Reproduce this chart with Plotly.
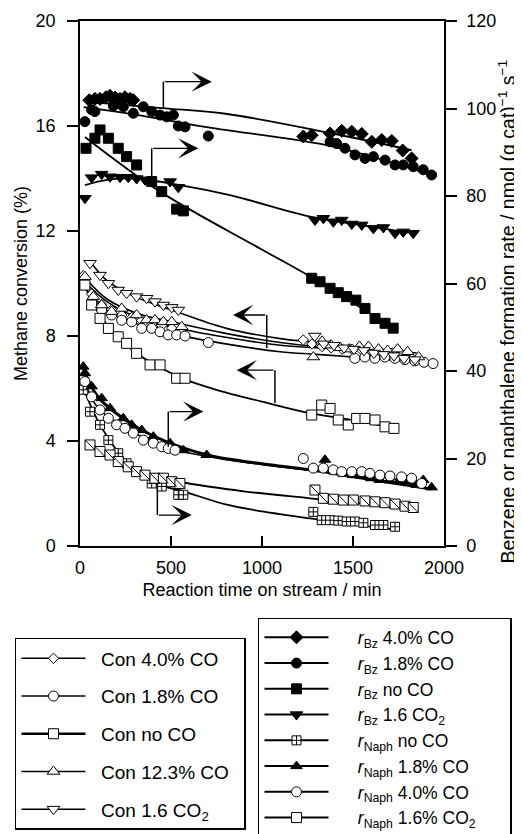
import plotly.graph_objects as go

FONT = "Liberation Sans, Arial, sans-serif"

# ---------------- Methane conversion (left axis, %) ----------------
t_con_co4 = [18, 64, 119, 174, 229, 284, 339, 394, 449, 504,
             1227, 1275, 1330, 1380, 1440, 1495, 1550, 1605, 1660, 1715, 1770]
con_co4 = [10.3, 9.6, 9.2, 9.0, 8.8, 8.7, 8.6, 8.45, 8.4, 8.3,
           7.85, 7.7, 7.6, 7.55, 7.5, 7.5, 7.45, 7.4, 7.35, 7.35, 7.3]

t_con_co18 = [119, 174, 229, 284, 339, 394, 440, 485, 531, 577, 705,
              1510, 1565, 1620, 1675, 1730, 1785, 1840, 1890, 1940]
con_co18 = [9.0, 8.8, 8.6, 8.54, 8.29, 8.29, 8.16, 8.04, 8.04, 8.0, 7.75,
            7.15, 7.2, 7.15, 7.2, 7.15, 7.1, 7.05, 7.0, 6.95]

t_con_noco = [27, 64, 110, 156, 210, 256, 311, 385, 440, 531, 577,
              1273, 1328, 1374, 1419, 1474, 1520, 1566, 1621, 1676, 1725]
con_noco = [9.94, 9.18, 8.67, 8.29, 7.97, 7.72, 7.34, 6.90, 6.90, 6.39, 6.39,
            4.99, 5.37, 5.24, 4.80, 4.61, 4.86, 4.86, 4.80, 4.54, 4.48]

t_con_co123 = [27, 73, 119, 174, 229, 311, 366, 412, 458, 504, 559,
               1282, 1330, 1380, 1430, 1480, 1535, 1585, 1640, 1690, 1745, 1800, 1860]
con_co123 = [10.26, 9.50, 9.18, 8.93, 9.05, 8.80, 8.61, 8.61, 8.54, 8.54, 8.35,
             7.2, 7.8, 7.65, 7.55, 7.5, 7.6, 7.6, 7.5, 7.45, 7.5, 7.4, 7.2]

t_con_co2 = [55, 110, 156, 210, 256, 311, 366, 412, 458, 504, 540,
             1290, 1340, 1395, 1450, 1505, 1560, 1615, 1670, 1725, 1780, 1840]
con_co2 = [10.77, 10.32, 10.01, 9.75, 9.63, 9.50, 9.44, 9.31, 9.18, 9.09, 8.99,
           8.0, 7.7, 7.65, 7.55, 7.5, 7.45, 7.35, 7.3, 7.25, 7.15, 7.1]

# ---------------- Benzene formation rate (right axis) ----------------
t_bz_co4 = [51, 82, 110, 143, 165, 192, 220, 247, 275, 293,
            1227, 1273, 1374, 1438, 1493, 1548, 1603, 1658, 1713, 1773, 1822]
bz_co4 = [101.9, 102.2, 102.2, 102.6, 102.9, 102.5, 102.2, 102.6, 102.2, 101.9,
          93.6, 93.9, 94.3, 94.9, 94.7, 94.2, 92.4, 92.8, 92.6, 90.4, 88.6]

t_bz_co18 = [27, 64, 82, 183, 238, 293, 348, 394, 440, 476, 513, 540, 577, 705,
             1374, 1410, 1456, 1511, 1566, 1612, 1676, 1731, 1776, 1831, 1886, 1932]
bz_co18 = [97.0, 99.7, 99.3, 100.6, 100.4, 98.9, 100.4, 99.3, 98.5, 98.1, 98.5, 96.0, 95.8, 93.7,
           92.4, 92.0, 90.9, 89.4, 88.6, 89.0, 88.2, 87.1, 87.1, 86.7, 86.0, 84.8]

t_bz_noco = [33, 82, 110, 156, 210, 256, 311, 394, 449, 531, 568,
             1273, 1319, 1374, 1419, 1465, 1516, 1566, 1621, 1676, 1721]
bz_noco = [90.9, 93.2, 95.1, 93.2, 90.9, 89.0, 87.1, 83.3, 81.0, 77.0, 76.6,
           61.2, 60.4, 58.9, 57.9, 57.0, 56.2, 54.3, 52.0, 50.9, 49.8]

t_bz_co2 = [27, 64, 119, 165, 220, 265, 311, 357, 495, 540,
            1291, 1337, 1392, 1438, 1493, 1548, 1612, 1667, 1731, 1776, 1831]
bz_co2 = [79.5, 84.2, 85.0, 84.4, 84.3, 84.3, 84.0, 83.7, 83.3, 82.0,
          74.5, 74.9, 74.1, 74.5, 73.6, 73.4, 72.6, 72.8, 71.5, 71.8, 71.5]

# ---------------- Naphthalene formation rate (right axis) ----------------
t_na_noco = [18, 55, 110, 156, 210, 256, 394, 449, 540, 568,
             1282, 1328, 1374, 1419, 1465, 1511, 1557, 1621, 1667, 1731]
na_noco = [35.7, 30.7, 27.7, 24.2, 21.2, 18.9, 14.3, 13.6, 11.7, 11.7,
           7.8, 5.9, 5.9, 5.8, 5.6, 5.6, 5.3, 4.8, 4.8, 4.4]

t_na_co18 = [18, 27, 64, 119, 165, 238, 284, 339, 403, 495, 568, 696,
             1346, 1400, 1450, 1500, 1550, 1600, 1648, 1700, 1750, 1800, 1850, 1886, 1932]
na_co18 = [41.0, 39.5, 36.5, 33.8, 31.5, 29.2, 27.7, 26.5, 25.0, 23.5, 21.9, 20.8,
           19.7, 17.0, 16.5, 16.2, 16.0, 15.5, 15.1, 15.0, 14.8, 14.5, 14.0, 15.1, 13.4]

t_na_co4 = [27, 64, 110, 156, 201, 247, 293, 348, 403, 449, 485, 522,
            1227, 1282, 1337, 1392, 1438, 1493, 1548, 1593, 1648, 1703, 1767, 1822, 1877]
na_co4 = [37.6, 34.1, 31.1, 29.2, 27.7, 26.9, 25.8, 24.2, 23.5, 22.7, 22.3, 21.9,
          20.0, 17.8, 17.8, 17.4, 17.0, 17.0, 17.0, 16.6, 16.2, 16.0, 15.8, 15.5, 14.3]

t_na_co2 = [55, 110, 165, 210, 265, 311, 357, 412, 458, 504, 549,
            1291, 1337, 1392, 1447, 1502, 1566, 1621, 1676, 1731, 1786, 1831]
na_co2 = [23.1, 21.6, 20.8, 19.3, 18.1, 17.0, 16.2, 15.5, 15.5, 14.7, 14.3,
          12.8, 10.9, 10.7, 10.5, 10.5, 10.3, 10.1, 9.9, 9.6, 9.1, 8.8]

# ---------------- fitted trend curves ----------------
fit_con_co2 = ([60, 150, 300, 500, 800, 1100, 1300, 1600, 1840],
               [10.8, 10.1, 9.5, 9.0, 8.3, 7.9, 7.75, 7.45, 7.15])
fit_con_co123 = ([30, 150, 300, 500, 800, 1100, 1300, 1600, 1850],
                 [10.2, 9.4, 8.9, 8.55, 8.1, 7.75, 7.6, 7.5, 7.35])
fit_con_co4 = ([20, 150, 300, 500, 800, 1100, 1300, 1550, 1770],
               [10.1, 9.3, 8.75, 8.35, 7.95, 7.65, 7.55, 7.45, 7.35])
fit_con_co18 = ([30, 150, 300, 500, 800, 1100, 1300, 1600, 1940],
                [9.8, 9.0, 8.5, 8.1, 7.7, 7.4, 7.3, 7.15, 6.95])
fit_con_noco = ([27, 100, 200, 300, 400, 577, 800, 1000, 1270, 1500, 1725],
                [9.9, 8.9, 8.0, 7.4, 6.95, 6.35, 5.85, 5.5, 5.05, 4.8, 4.5])

fit_bz_co4 = ([27, 450, 800, 1374, 1822], [101.6, 100.1, 98.8, 94.4, 90.5])
fit_bz_co18 = ([20, 300, 731, 1390, 1932], [100.3, 98.6, 95.5, 91.3, 84.8])
fit_bz_noco = ([27, 440, 989, 1264, 1721], [93.5, 81.0, 68.0, 61.6, 49.8])
fit_bz_co2 = ([27, 150, 293, 549, 824, 1264, 1550, 1831],
              [82.5, 83.7, 84.0, 82.5, 80.2, 75.3, 73.3, 71.5])

fit_na_co18 = ([18, 100, 250, 400, 700, 1000, 1264, 1600, 1932],
               [40.5, 34.0, 28.8, 25.2, 20.8, 18.8, 17.4, 15.2, 13.0])
fit_na_co4 = ([27, 100, 250, 400, 520, 800, 1227, 1600, 1877],
              [37.5, 31.5, 27.0, 23.8, 22.0, 19.8, 17.5, 16.0, 14.5])
fit_na_co2 = ([55, 200, 400, 586, 900, 1264, 1500, 1831],
              [23.5, 20.0, 16.2, 14.4, 12.5, 10.9, 9.9, 8.6])
fit_na_noco = ([18, 100, 200, 300, 450, 568, 800, 1000, 1264, 1500, 1731],
               [36.0, 28.5, 22.0, 17.5, 13.8, 12.5, 9.5, 7.9, 6.3, 4.9, 3.8])

# axis ticks and titles
x_ticks = [0, 500, 1000, 1500, 2000]
y1_ticks = [0, 4, 8, 12, 16, 20]
y2_ticks = [0, 20, 40, 60, 80, 100, 120]
RIGHT_TITLE = "Benzene or naphthalene formation rate / nmol (g cat)<sup>−1</sup> s<sup>−1</sup>"

fig = go.Figure()

# ---- trend lines (beneath the markers) ----
lines = [
    (fit_con_co2, "y", 1.6), (fit_con_co123, "y", 1.6), (fit_con_co4, "y", 1.6),
    (fit_con_co18, "y", 1.6), (fit_con_noco, "y", 1.8),
    (fit_bz_co4, "y2", 1.8), (fit_bz_co18, "y2", 1.8), (fit_bz_noco, "y2", 1.8),
    (fit_bz_co2, "y2", 1.8),
    (fit_na_co18, "y2", 3.0), (fit_na_co4, "y2", 1.6), (fit_na_co2, "y2", 1.8),
    (fit_na_noco, "y2", 1.8),
]
for (xs, ys), ax, w in lines:
    fig.add_trace(go.Scatter(x=xs, y=ys, yaxis=ax, mode="lines",
                             line=dict(color="black", width=w, shape="spline", smoothing=1.0),
                             showlegend=False, hoverinfo="skip"))


def gapped(xs, ys):
    gx, gy = [], []
    for a, b in zip(xs, ys):
        gx += [a, None]
        gy += [b, None]
    return gx, gy


NB = "\u00a0"
# (name, t, values, yaxis, symbol, size, fill, legend, legend line width)
series = [
    ("Con 4.0% CO", t_con_co4, con_co4, "y", "diamond", 8, "white", "legend", 1.5),
    ("Con 1.8% CO", t_con_co18, con_co18, "y", "circle", 10, "white", "legend", 1.5),
    ("Con no CO", t_con_noco, con_noco, "y", "square", 10, "white", "legend", 2.5),
    ("Con 12.3% CO", t_con_co123, con_co123, "y", "triangle-up", 11, "white", "legend", 1.5),
    ("Con 1.6 CO<sub>2</sub>", t_con_co2, con_co2, "y", "triangle-down", 11, "white", "legend", 1.5),
    ("<i>r</i><sub>Bz</sub> 4.0% CO", t_bz_co4, bz_co4, "y2", "diamond", 10, "black", "legend2", 2),
    ("<i>r</i><sub>Bz</sub> 1.8% CO", t_bz_co18, bz_co18, "y2", "circle", 10, "black", "legend2", 2),
    ("<i>r</i><sub>Bz</sub> no CO", t_bz_noco, bz_noco, "y2", "square", 10, "black", "legend2", 2),
    ("<i>r</i><sub>Bz</sub> 1.6 CO<sub>2</sub>", t_bz_co2, bz_co2, "y2", "triangle-down", 11, "black", "legend2", 2),
    ("<i>r</i><sub>Naph</sub> no CO", t_na_noco, na_noco, "y2", "square-cross", 9, "white", "legend2", 2),
    ("<i>r</i><sub>Naph</sub> 1.8% CO", t_na_co18, na_co18, "y2", "triangle-up", 10, "black", "legend2", 2),
    ("<i>r</i><sub>Naph</sub> 4.0% CO", t_na_co4, na_co4, "y2", "circle", 10, "white", "legend2", 2),
    ("<i>r</i><sub>Naph</sub> 1.6% CO<sub>2</sub>", t_na_co2, na_co2, "y2", "square", 10, "white", "legend2", 2),
]

for i, (name, ts, vs, ax, sym, size, fill, leg, lw) in enumerate(series):
    gx, gy = gapped(ts, vs)
    if leg == "legend":
        label = NB * 2 + name + NB * 2
    else:
        label = NB * 5 + name + NB * 6
    fig.add_trace(go.Scatter(
        x=gx, y=gy, yaxis=ax, name=label, mode="lines+markers", connectgaps=False,
        line=dict(color="black", width=lw),
        marker=dict(symbol=sym, size=size, color=fill, line=dict(color="black", width=1)),
        legend=leg, legendgroup=("g%d" % i) if leg == "legend" else None,
        hoverinfo="x+y"))
    if name.startswith("<i>r</i><sub>Naph</sub> 1.6"):
        fig.add_trace(go.Scatter(
            x=ts, y=vs, yaxis=ax, mode="markers", showlegend=False, hoverinfo="skip",
            marker=dict(symbol="line-nw", size=size, color="black",
                        line=dict(color="black", width=1))))

# ---- L-shaped arrows (left-axis units) : (x_vertical, y_start, y_corner, x_tip)
ARROWS = [
    (458, 16.69, 17.69, 724),
    (394, 14.01, 15.15, 650),
    (1026, 7.54, 8.80, 841),
    (1071, 5.45, 6.70, 861),
    (485, 3.78, 5.12, 678),
    (425, 2.40, 1.18, 614),
]
shapes = []
annotations = []
for xv, y0, y1, xt in ARROWS:
    shapes.append(dict(type="line", xref="x", yref="y", x0=xv, x1=xv, y0=y0, y1=y1,
                       line=dict(color="black", width=1.5)))
    annotations.append(dict(x=xt, y=y1, ax=xv, ay=y1, xref="x", yref="y",
                            axref="x", ayref="y", showarrow=True, arrowhead=3,
                            arrowsize=2.6, arrowwidth=1.3, arrowcolor="black",
                            standoff=0, startstandoff=0, text=""))

# right-axis title (placed as a rotated label so it can sit where the reference has it)
annotations.append(dict(text=RIGHT_TITLE, xref="paper", yref="paper", x=1.172, y=0.4457,
                        xanchor="center", yanchor="middle", textangle=-90, showarrow=False,
                        font=dict(family=FONT, size=19.5, color="black")))

axis_common = dict(showgrid=False, zeroline=False, showline=True, linecolor="black",
                   linewidth=1.5, tickcolor="black", tickwidth=1.5,
                   tickfont=dict(family=FONT, size=18, color="black"),
                   title_font=dict(family=FONT, size=18, color="black"),
                   automargin=False)

# the page adds an 8px body margin, so the figure is 8px smaller than the window
fig.update_layout(
    width=514, height=826, autosize=False,
    margin=dict(l=72, r=78, t=13, b=288, autoexpand=False),
    paper_bgcolor="white", plot_bgcolor="white",
    font=dict(family=FONT, size=18, color="black"),
    xaxis=dict(range=[0, 2000], tickvals=x_ticks, ticks="inside", ticklen=10,
               mirror=True, ticklabelstandoff=5,
               title=dict(text="Reaction time on stream / min", standoff=6),
               **axis_common),
    yaxis=dict(range=[0, 20], tickvals=y1_ticks, ticks="outside", ticklen=11,
               ticklabelstandoff=8,
               title=dict(text="Methane conversion (%)", standoff=3),
               **axis_common),
    yaxis2=dict(range=[0, 120], tickvals=y2_ticks, ticks="outside", ticklen=11,
                overlaying="y", side="right", ticklabelstandoff=6,
                **axis_common),
    legend=dict(x=-0.1786, y=-0.1752, xanchor="left", yanchor="top",
                bgcolor="white", bordercolor="black", borderwidth=1.5,
                font=dict(family=FONT, size=19, color="black"),
                itemwidth=64, tracegroupgap=10, traceorder="grouped", itemsizing="trace"),
    legend2=dict(x=0.489, y=-0.1371, xanchor="left", yanchor="top",
                 bgcolor="white", bordercolor="black", borderwidth=1.5,
                 font=dict(family=FONT, size=17.5, color="black"),
                 itemwidth=64, tracegroupgap=0, itemsizing="trace"),
    shapes=shapes, annotations=annotations,
)

fig.write_html("out.html")
